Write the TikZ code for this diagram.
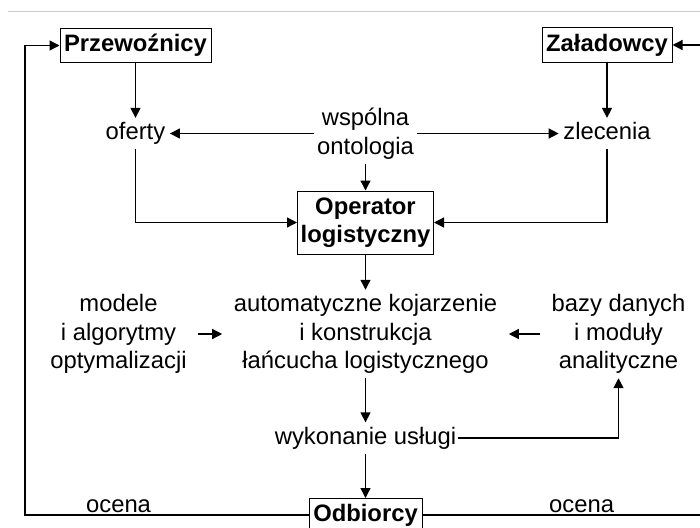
\documentclass[tikz,border=0pt]{standalone}
\usepackage{fontspec}
\setmainfont{Liberation Sans}
\usetikzlibrary{arrows.meta}

\begin{document}
\begin{tikzpicture}[
        x=1pt, y=-1pt,
        >={Triangle[length=10pt, width=10pt]}, % Arrowhead style
        line width=1.3pt,
        every node/.style={font=\fontsize{23.8}{28.5}\selectfont},
        box/.style={draw, line width=1pt, inner sep=0pt, align=center,
                    font=\fontsize{23.8}{28}\selectfont\bfseries},
        txt/.style={text height=17pt, text depth=5pt, inner xsep=4pt, inner ysep=4pt},
        mtxt/.style={align=center, inner xsep=11pt, inner ysep=4pt},
        ocenalbl/.style={above, inner sep=2pt}
    ]

    \clip (0, 0) rectangle (700, 527);
    \useasboundingbox (0, 0) rectangle (700, 527);
    \draw[line width=0.8pt, black!20] (8, 11) -- (700, 11);

    % ==========================================
    % Nodes Placement
    % ==========================================
    \node[box, minimum width=151pt, minimum height=33pt] (przew) at (135.5, 45.5) {Przewoźnicy};
    \node[box, minimum width=130pt, minimum height=34pt] (zalad) at (607, 45) {Załadowcy};

    \node[txt] (oferty) at (135.5, 133.5) {oferty};
    \node[txt] (zlec) at (607, 133.5) {zlecenia};
    \node[mtxt, inner xsep=3pt] (ont) at (365.5, 133.5) {wspólna\\ontologia};

    \node[box, minimum width=136pt, minimum height=63pt] (oper) at (365.5, 222.5) {Operator\\logistyczny};

    \node[mtxt] (model) at (118.5, 334) {modele\\i algorytmy\\optymalizacji};
    \node[mtxt] (auto) at (365.5, 334) {automatyczne kojarzenie\\i konstrukcja\\łańcucha logistycznego};
    \node[mtxt] (bazy) at (618.5, 334) {bazy danych\\i moduły\\analityczne};

    \node[txt, inner xsep=1pt] (wyk) at (365.5, 438) {wykonanie usługi};
    \node[box, minimum width=113pt, minimum height=33pt] (odb) at (365.5, 515) {Odbiorcy};

    \coordinate (lewy) at (25, 515);
    \coordinate (prawy) at (715, 515);

    % ==========================================
    % Edges
    % ==========================================

    % Upper part
    \draw[->] (przew) -- (oferty);
    \draw[->] (zalad) -- (zlec);
    \draw[->] (ont) -- (oferty);
    \draw[->] (ont) -- (zlec);
    \draw[->] (ont) -- (oper);
    \draw[->] (oferty) |- (oper);
    \draw[->] (zlec) |- (oper);

    % Middle part
    \draw[->] (oper) -- (auto);
    \draw[->] (model) -- (auto);
    \draw[->] (bazy) -- (auto);
    \draw[->] (auto) -- (wyk);
    \draw[->] (wyk) -| (bazy);
    \draw[->] (wyk) -- (odb);

    % Feedback loops
    \draw[->] (odb) -- node[ocenalbl, pos=0.67] {ocena} (lewy) |- (przew);
    \draw[->] (odb) -- node[ocenalbl, pos=0.544] {ocena} (prawy) |- (zalad);

\end{tikzpicture}
\end{document}
